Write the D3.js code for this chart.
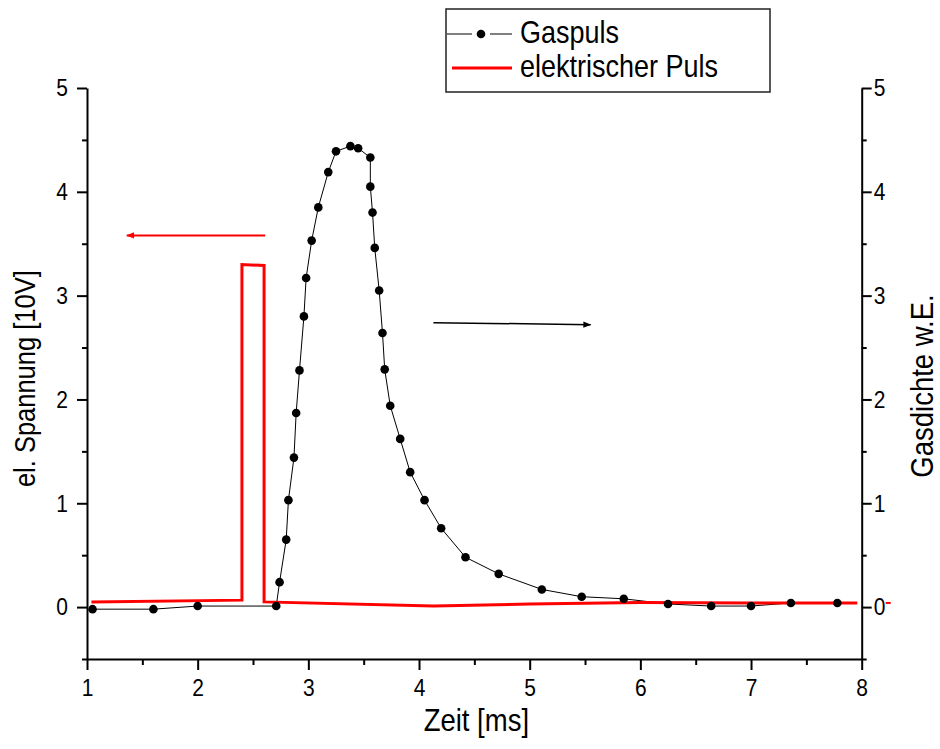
<!DOCTYPE html>
<html><head><meta charset="utf-8">
<script src="https://cdn.jsdelivr.net/npm/d3@7"></script>
<style>
html,body{margin:0;padding:0;background:#fff;}
svg text{font-family:"Liberation Sans",Arial,sans-serif;fill:#000;}
</style></head>
<body>
<svg id="chart" width="940" height="749"></svg>
<script>
// ---- data ----
const gasX = [1.05,1.60,2.00,2.71,2.74,2.80,2.82,2.87,2.89,2.92,2.96,2.98,3.03,3.09,3.18,3.25,3.38,3.45,3.56,3.56,3.58,3.60,3.64,3.67,3.69,3.74,3.83,3.92,4.05,4.20,4.42,4.72,5.11,5.47,5.85,6.25,6.64,7.00,7.36,7.78];
const gasY = [-0.02,-0.02,0.01,0.01,0.24,0.65,1.03,1.44,1.87,2.28,2.80,3.17,3.53,3.85,4.19,4.39,4.44,4.42,4.33,4.05,3.80,3.46,3.05,2.64,2.29,1.94,1.62,1.30,1.03,0.76,0.48,0.32,0.17,0.10,0.08,0.03,0.01,0.01,0.04,0.04];
const pulsX = [1.04,2.40,2.40,2.60,2.60,4.13,5.0,6.0,7.0,7.96];
const pulsY = [0.048,0.067,3.30,3.29,0.05,0.01,0.03,0.045,0.04,0.04];
const xTicks = [1,2,3,4,5,6,7,8];
const xMinor = [1.5,2.5,3.5,4.5,5.5,6.5,7.5];
const yTicks = [0,1,2,3,4,5];
const yMinor = [-0.5,0.5,1.5,2.5,3.5,4.5];
const xTitle = "Zeit [ms]";
const yLeftTitle = "el. Spannung [10V]";
const yRightTitle = "Gasdichte w.E.";
const legendLabels = ["Gaspuls","elektrischer Puls"];
// annotation arrows in data coordinates
const arrowRed = {x1:2.61,y1:3.58,x2:1.36,y2:3.58};
const arrowBlack = {x1:4.13,y1:2.74,x2:5.55,y2:2.72};

const svg = d3.select("#chart");
const L = 87, R = 861.7, T = 88, B = 659;
const SY = 1.15; // vertical stretch of the lettering
const x = d3.scaleLinear().domain([1,8]).range([L,R]);
const y = d3.scaleLinear().domain([-0.5,5]).range([B,T]);

const defs = svg.append("defs");
function marker(id,color){
  defs.append("marker").attr("id",id).attr("viewBox","0 0 10 10")
    .attr("refX",9).attr("refY",5).attr("markerWidth",10).attr("markerHeight",8)
    .attr("markerUnits","userSpaceOnUse").attr("orient","auto")
    .append("path").attr("d","M0,1 L10,5 L0,9 Z").attr("fill",color);
}
marker("arR","#ff0000"); marker("arB","#000");

// axes
function styleAxis(g, pivotY){
  g.select(".domain").attr("stroke","#000").attr("stroke-width",2);
  g.selectAll(".tick line").attr("stroke","#000").attr("stroke-width",2);
  g.selectAll(".tick text").attr("font-size",21).attr("font-family","Liberation Sans, Arial, sans-serif")
    .attr("transform",`translate(0,${pivotY}) scale(1,${SY}) translate(0,${-pivotY})`);
}
const fmt = d3.format("d");
const gx = svg.append("g").attr("transform",`translate(0,${B})`)
  .call(d3.axisBottom(x).tickValues(xTicks).tickFormat(fmt).tickSize(11).tickPadding(9).tickSizeOuter(0));
styleAxis(gx, 20);
const gxm = svg.append("g").attr("transform",`translate(0,${B})`)
  .call(d3.axisBottom(x).tickValues(xMinor).tickFormat("").tickSize(6).tickSizeOuter(0));
styleAxis(gxm,0); gxm.select(".domain").remove();

const gyl = svg.append("g").attr("transform",`translate(${L},0)`)
  .call(d3.axisLeft(y).tickValues(yTicks).tickFormat(fmt).tickSize(10).tickPadding(9).tickSizeOuter(0));
styleAxis(gyl,0);
const gylm = svg.append("g").attr("transform",`translate(${L},0)`)
  .call(d3.axisLeft(y).tickValues(yMinor).tickFormat("").tickSize(5).tickSizeOuter(0));
styleAxis(gylm,0); gylm.select(".domain").remove();

const gyr = svg.append("g").attr("transform",`translate(${R},0)`)
  .call(d3.axisRight(y).tickValues(yTicks).tickFormat(fmt).tickSize(10).tickPadding(2).tickSizeOuter(0));
styleAxis(gyr,0);
const gyrm = svg.append("g").attr("transform",`translate(${R},0)`)
  .call(d3.axisRight(y).tickValues(yMinor).tickFormat("").tickSize(5).tickSizeOuter(0));
styleAxis(gyrm,0); gyrm.select(".domain").remove();

// axis titles
function stretchedText(px,py,rot,size,anchor,str){
  const t = rot ? `translate(${px},${py}) rotate(${rot}) scale(1,${SY})` : `translate(${px},${py}) scale(1,${SY})`;
  return svg.append("text").attr("transform",t).attr("text-anchor",anchor).attr("font-size",size).text(str);
}
stretchedText((L+R)/2+2, 731, 0, 27.5, "middle", xTitle);
stretchedText(35, y(2.2), -90, 25.5, "middle", yLeftTitle);
stretchedText(933, y(2.13), -90, 27.5, "middle", yRightTitle);

// gas pulse
const gas = gasX.map((v,i)=>[v,gasY[i]]);
svg.append("path").datum(gas)
  .attr("d",d3.line().x(d=>x(d[0])).y(d=>y(d[1])))
  .attr("fill","none").attr("stroke","#000").attr("stroke-width",1);

// electric pulse
const puls = pulsX.map((v,i)=>[v,pulsY[i]]);
svg.append("path").datum(puls)
  .attr("d",d3.line().x(d=>x(d[0])).y(d=>y(d[1])))
  .attr("fill","none").attr("stroke","#ff0000").attr("stroke-width",3);
// small red dash beside right zero label
svg.append("line").attr("x1",R+24).attr("x2",R+29).attr("y1",y(0.04)).attr("y2",y(0.04))
  .attr("stroke","#ff0000").attr("stroke-width",2);

svg.append("g").selectAll("circle").data(gas).join("circle")
  .attr("cx",d=>x(d[0])).attr("cy",d=>y(d[1])).attr("r",4.3).attr("fill","#000");

// arrows
svg.append("line").attr("x1",x(arrowRed.x1)).attr("y1",y(arrowRed.y1))
  .attr("x2",x(arrowRed.x2)).attr("y2",y(arrowRed.y2))
  .attr("stroke","#ff0000").attr("stroke-width",2).attr("marker-end","url(#arR)");
svg.append("line").attr("x1",x(arrowBlack.x1)).attr("y1",y(arrowBlack.y1))
  .attr("x2",x(arrowBlack.x2)).attr("y2",y(arrowBlack.y2))
  .attr("stroke","#000").attr("stroke-width",1.5).attr("marker-end","url(#arB)");

// legend
const lg = svg.append("g");
lg.append("rect").attr("x",446).attr("y",9).attr("width",324).attr("height",83)
  .attr("fill","#fff").attr("stroke","#222").attr("stroke-width",1.5);
lg.append("line").attr("x1",447).attr("x2",472).attr("y1",34).attr("y2",34).attr("stroke","#000").attr("stroke-width",1);
lg.append("line").attr("x1",490).attr("x2",512).attr("y1",34).attr("y2",34).attr("stroke","#000").attr("stroke-width",1);
lg.append("circle").attr("cx",481).attr("cy",34).attr("r",4.3).attr("fill","#000");
lg.append("text").attr("transform",`translate(520,43) scale(1,${SY})`).attr("font-size",27).text(legendLabels[0]);
lg.append("line").attr("x1",452).attr("x2",512).attr("y1",68).attr("y2",68).attr("stroke","#ff0000").attr("stroke-width",3);
lg.append("text").attr("transform",`translate(520,77) scale(1,${SY})`).attr("font-size",27).text(legendLabels[1]);
</script>
</body></html>
